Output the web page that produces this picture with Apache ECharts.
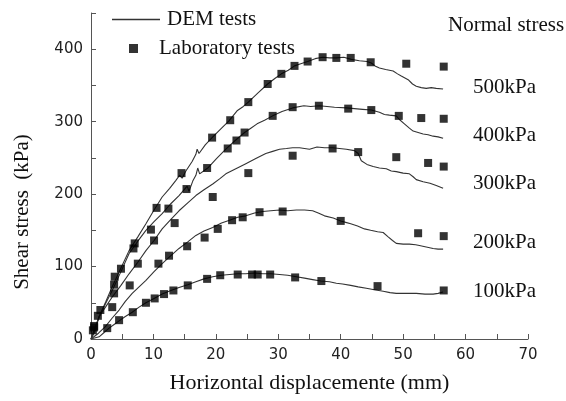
<!DOCTYPE html>
<html>
<head>
<meta charset="utf-8">
<script src="https://cdn.jsdelivr.net/npm/echarts@6/dist/echarts.min.js"></script>
<style>
  html, body { margin: 0; padding: 0; background: #fff; }
  #chart-container { width: 566px; height: 401px; }
</style>
</head>
<body>
<div id="chart-container"></div>
<script>
// normal stress levels, top to bottom
const stressLabels = ["500kPa", "400kPa", "300kPa", "200kPa", "100kPa"]

// DEM curves [displacement mm, shear stress kPa]
const dem500 = [[0,0],[1.3,31],[2.4,52],[3.4,72],[4.8,98],[6.1,122],[7.5,141],[8.8,159],[10.1,178],[11.4,196],[12.6,208],[13.6,219],[14.2,226],[14.6,222],[15.2,232],[16.2,245],[16.8,255],[17.0,262],[17.3,256],[18.3,268],[19.4,278],[20.8,290],[22.1,301],[23.4,315],[24.4,321],[25.2,327],[26.8,340],[28.3,352],[29.5,360],[30.5,366],[31.6,371],[32.6,377],[33.6,380],[34.7,383],[35.9,387],[37.1,389],[38.2,388],[39.3,388],[40.5,389],[41.7,386],[43,384],[44.2,383],[44.9,381],[45.5,377],[46.2,374],[47.2,372],[48.4,370],[49.1,366],[49.7,363],[50.8,358],[51.5,352],[52.1,349],[52.9,347],[53.7,346],[54.5,347],[55.3,346],[56.4,345]]
const dem400 = [[0,0],[1.3,30],[2.4,50],[3.4,67],[4.8,93],[6.1,118],[7.5,135],[8.8,150],[10.1,162],[11.4,173],[12.7,186],[14.1,198],[15.0,207],[15.4,211],[15.7,204],[16.3,218],[16.8,226],[17.1,236],[17.4,228],[18.7,236],[20.1,249],[21.6,262],[23.1,274],[24.6,285],[25.6,291],[26.6,297],[27.8,302],[29.1,308],[30.6,314],[32.3,319],[34.1,322],[35.2,321],[36.6,322],[37.8,321],[39,320],[40.9,319],[42.2,318],[43.5,317],[44.9,316],[46.2,313],[47,310],[47.8,309],[48.9,308],[49.4,303],[50.2,297],[51,291],[51.6,287],[52.4,285],[53.2,283],[54.0,282],[54.8,280],[55.6,279],[56.4,277]]
const dem300 = [[0,0],[0.5,8],[1.3,31],[2.4,45],[3.4,58],[4.8,74],[6.1,90],[7.5,106],[8.8,122],[10.1,136],[11.4,152],[12.8,165],[14.1,177],[15.5,188],[16.8,198],[18.1,206],[19.5,214],[20.6,221],[21.6,228],[23.2,235],[24.8,242],[26.4,249],[28,256],[29.1,259],[30.2,262],[31.3,263],[32.3,264],[33.4,264],[35,262],[36.2,265],[37.4,264],[38.7,264],[39.8,263],[40.9,262],[42.2,260],[42.8,256],[43.3,246],[44.2,241],[45.2,238],[46.2,236],[47.3,235],[48.1,232],[48.9,231],[50,229],[51,228],[51.6,224],[52.1,220],[53.2,217],[54.3,215],[55.3,212],[56.4,208]]
const dem200 = [[0,0],[1.2,8],[2.3,17],[3.4,29],[4.5,40],[5.5,52],[6.6,63],[7.7,72],[8.8,81],[10.1,93],[11.4,104],[12.8,115],[14.1,125],[15.5,134],[16.8,143],[18.1,149],[19.5,154],[20.9,160],[22.2,164],[23.5,168],[24.8,170],[26.2,174],[27.5,176],[28.8,177],[30.2,178],[31.5,177],[32.9,178],[34.2,178],[35.5,177],[36.4,174],[37.4,170],[38.8,167],[40,163],[40.8,161],[41.6,159],[42.7,156],[43.8,152],[44.8,150],[45.9,148],[46.8,147],[47.6,141],[48.3,136],[48.9,132],[50,131],[51,131],[52,130],[52.6,129],[53.7,127],[54.8,125],[55.6,124],[56.4,124]]
const dem100 = [[0,0],[1.3,3],[2.1,9],[2.9,15],[3.7,20],[4.5,25],[5.5,31],[6.6,37],[7.7,44],[8.8,50],[10.1,56],[11.4,62],[12.8,67],[14.1,71],[15.5,75],[16.8,79],[18.1,83],[19.5,86],[20.9,88],[22.2,89],[23.5,90],[24.8,90],[26.2,91],[27.5,90],[28.8,90],[30.2,89],[31.5,88],[32.9,86],[34.2,84],[35.5,82],[36.8,80],[38.2,79],[39.3,77],[40.3,76],[41.6,74],[42.8,72],[44.1,70],[45.4,68],[46.8,66],[47.9,64],[48.9,63],[50.5,63],[52.1,63],[53.5,62],[54.8,62],[55.6,63],[56.4,65]]

// laboratory points
const lab500 = [[1.5,40],[3.7,75],[4.8,97],[7.0,132],[10.5,181],[14.5,229],[19.4,278],[22.3,302],[25.2,327],[28.3,352],[30.5,366],[32.6,377],[34.7,383],[37.1,389],[39.3,388],[41.6,388],[44.8,382],[50.5,380],[56.5,376]]
const lab400 = [[0.5,18],[3.8,86],[6.8,125],[9.6,151],[12.4,180],[15.3,207],[18.6,236],[21.9,263],[23.3,274],[24.6,285],[29.1,308],[32.3,320],[36.5,322],[41.2,318],[44.9,316],[49.3,308],[52.9,305],[56.5,304]]
const lab300 = [[1.1,32],[3.7,63],[7.5,104],[10.1,136],[13.4,160],[19.5,196],[25.2,229],[32.3,253],[38.7,263],[42.8,258],[48.9,251],[54,243],[56.5,238]]
const lab200 = [[0.5,16],[3.4,44],[6.2,74],[10.8,104],[12.5,115],[15.4,128],[18.2,140],[20.3,152],[22.6,164],[24.3,168],[27,175],[30.7,176],[40,163],[52.4,146],[56.5,142]]
const lab100 = [[0.3,12],[2.6,15],[4.5,26],[6.7,37],[8.8,50],[10.2,56],[11.7,62],[13.2,67],[15.5,74],[18.6,83],[20.7,88],[23.5,89],[25.8,89],[26.7,89],[28.7,89],[32.7,85],[36.9,80],[45.9,73],[56.5,67]]

const demCurves = [dem500, dem400, dem300, dem200, dem100]
const labPoints = [lab500, lab400, lab300, lab200, lab100]
const labelNudge = [-2, -3, -5, -7, 0]

const serif = "'Liberation Serif', 'Times New Roman', serif"
const sans = "'DejaVu Sans', sans-serif"

var dom = document.getElementById("chart-container")
var myChart = echarts.init(dom, null, { renderer: "canvas" })

const commonAxis = {
  axisLine: { show: true, lineStyle: { color: "#555", width: 1 } },
  axisTick: { show: true, inside: true, length: 5, lineStyle: { color: "#555" } },
  splitLine: { show: false },
  axisLabel: { color: "#222", fontFamily: sans, fontSize: 15 }
}

const demSeries = demCurves.map((data, i) => ({
  name: "DEM tests",
  type: "line",
  data: data,
  symbol: "none",
  lineStyle: { color: "#333", width: 1.1 },
  itemStyle: { color: "#333" },
  z: 2,
  endLabel: {
    show: true,
    formatter: stressLabels[i],
    distance: 30,
    offset: [0, labelNudge[i]],
    fontFamily: serif,
    fontSize: 21,
    color: "#111"
  }
}))

const labSeries = labPoints.map((data) => ({
  name: "Laboratory tests",
  type: "scatter",
  data: data,
  symbol: "rect",
  symbolSize: 8,
  itemStyle: { color: "#000" },
  z: 3
}))

var option = {
  animation: false,
  backgroundColor: "#fff",
  grid: { left: 91, right: 38, top: 13, bottom: 62, containLabel: false },
  legend: [
    {
      data: [{ name: "DEM tests", icon: "rect" }],
      left: 107,
      top: 4,
      itemWidth: 48,
      itemHeight: 1.5,
      itemStyle: { color: "#333" },
      textStyle: { fontFamily: serif, fontSize: 21, color: "#111", padding: [0, 0, 0, 2] }
    },
    {
      data: [{ name: "Laboratory tests", icon: "rect" }],
      left: 124,
      top: 33,
      itemWidth: 9,
      itemHeight: 9,
      textStyle: { fontFamily: serif, fontSize: 21, color: "#111", padding: [0, 0, 0, 16] }
    }
  ],
  xAxis: {
    ...commonAxis,
    type: "value",
    min: 0,
    max: 70,
    interval: 5,
    name: "Horizontal displacemente (mm)",
    nameLocation: "middle",
    nameGap: 33,
    nameTextStyle: { fontFamily: serif, fontSize: 22, color: "#111" },
    axisLabel: {
      ...commonAxis.axisLabel,
      margin: 9,
      formatter: (v) => (v % 10 === 0 ? String(v) : "")
    }
  },
  yAxis: {
    ...commonAxis,
    type: "value",
    min: 0,
    max: 450,
    interval: 50,
    axisLabel: {
      ...commonAxis.axisLabel,
      margin: 8,
      formatter: (v) => (v % 100 === 0 && v < 450 ? String(v) : "")
    }
  },
  graphic: [
    {
      type: "text",
      left: 448,
      top: 15,
      style: { text: "Normal stress", font: "21px " + serif, fill: "#111" }
    },
    {
      type: "text",
      x: 22,
      y: 212,
      rotation: Math.PI / 2,
      style: {
        text: "Shear stress  (kPa)",
        font: "21px " + serif,
        fill: "#111",
        align: "center",
        verticalAlign: "middle"
      }
    }
  ],
  series: [...demSeries, ...labSeries]
}

myChart.setOption(option)
window.addEventListener("resize", myChart.resize)
</script>
</body>
</html>
